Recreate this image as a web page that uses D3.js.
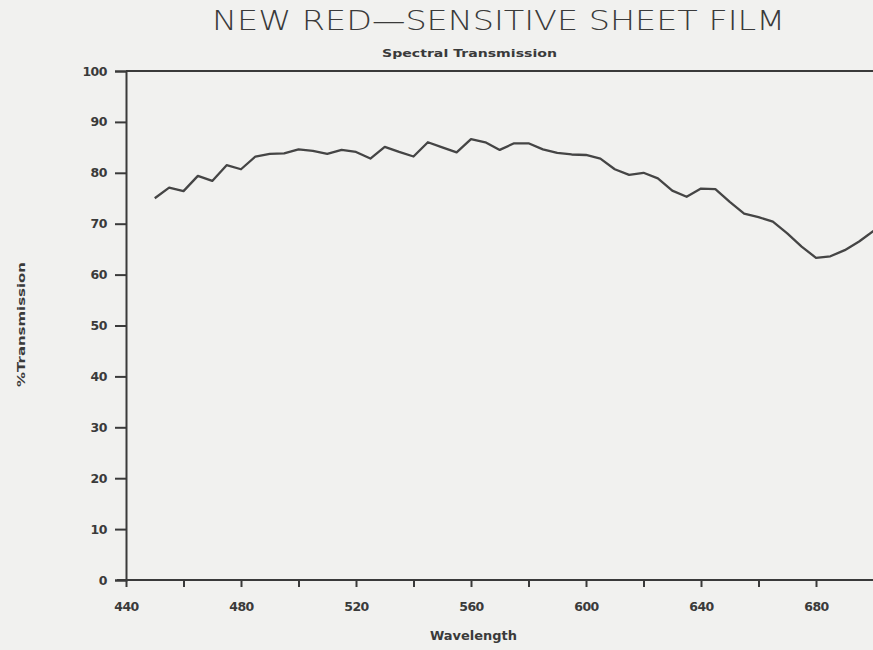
<!DOCTYPE html>
<html><head><meta charset="utf-8">
<script src="https://cdn.jsdelivr.net/npm/d3@7"></script>
<style>
html,body{margin:0;padding:0;background:#f1f1ef;}
svg{display:block;}
</style></head>
<body><svg id="c" width="873" height="650"></svg>
<script>
const wavelengths = [450,455,460,465,470,475,480,485,490,495,500,505,510,515,520,525,530,535,540,545,550,555,560,565,570,575,580,585,590,595,600,605,610,615,620,625,630,635,640,645,650,655,660,665,670,675,680,685,690,695,700];
const transmission = [75.0,77.1,76.4,79.4,78.4,81.5,80.7,83.2,83.7,83.8,84.6,84.3,83.7,84.5,84.1,82.8,85.1,84.1,83.2,86.0,85.0,84.0,86.6,86.0,84.5,85.8,85.8,84.6,83.9,83.6,83.5,82.8,80.7,79.6,80.0,78.9,76.5,75.3,76.9,76.8,74.3,72.0,71.3,70.4,68.1,65.5,63.3,63.6,64.8,66.5,68.6];
const xTicks = [440,460,480,500,520,540,560,580,600,620,640,660,680,700];
const xTickLabels = [440,480,520,560,600,640,680];
const yTicks = [0,10,20,30,40,50,60,70,80,90,100];
const title = "NEW RED\u2014SENSITIVE SHEET FILM";
const subtitle = "Spectral Transmission";
const xTitle = "Wavelength";
const yTitle = "%Transmission";

const svg = d3.select("#c");
const ink = "#3a3a3a";
const x = d3.scaleLinear().domain([440,700]).range([126,873.5]);
const y = d3.scaleLinear().domain([0,100]).range([580,71]);

// frame top
svg.append("line").attr("x1",126).attr("x2",873).attr("y1",y(100)).attr("y2",y(100))
  .attr("stroke",ink).attr("stroke-width",2);

// y axis
const ya = svg.append("g").attr("transform","translate(126,0)")
  .call(d3.axisLeft(y).tickValues(yTicks).tickSize(11).tickPadding(8).tickFormat(d3.format("d")));
ya.select(".domain").attr("stroke",ink).attr("stroke-width",2);
ya.selectAll(".tick line").attr("stroke",ink).attr("stroke-width",2);
ya.selectAll(".tick text").attr("fill",ink).attr("font-family","DejaVu Sans, sans-serif")
  .attr("font-weight","bold").attr("font-size",12.5).attr("letter-spacing",-0.5);

// x axis
const xa = svg.append("g").attr("transform","translate(0,580)")
  .call(d3.axisBottom(x).tickValues(xTicks).tickSize(7).tickPadding(15)
    .tickFormat(d => xTickLabels.includes(d) ? d : ""));
xa.select(".domain").attr("stroke",ink).attr("stroke-width",2).attr("d","M117,0H873");
xa.selectAll(".tick line").attr("stroke",ink).attr("stroke-width",2);
xa.selectAll(".tick text").attr("fill",ink).attr("font-family","DejaVu Sans, sans-serif")
  .attr("font-weight","bold").attr("font-size",12.5).attr("letter-spacing",-0.5);

// curve
const line = d3.line().x((d,i)=>x(wavelengths[i])).y(d=>y(d));
svg.append("path").datum(transmission).attr("d",line).attr("fill","none")
  .attr("stroke","#454545").attr("stroke-width",2.3).attr("stroke-linejoin","round");

// texts
svg.append("text").attr("x",212).attr("y",30).attr("textLength",573).attr("lengthAdjust","spacingAndGlyphs")
  .attr("font-family","DejaVu Sans, sans-serif").attr("font-weight",300).attr("font-size",26)
  .attr("fill","#3a3a3a").text(title);
svg.append("text").attr("x",382).attr("y",57).attr("textLength",175).attr("lengthAdjust","spacingAndGlyphs")
  .attr("font-family","DejaVu Sans, sans-serif").attr("font-weight","bold").attr("font-size",11)
  .attr("fill",ink).text(subtitle);
svg.append("text").attr("x",430).attr("y",640).attr("textLength",87).attr("lengthAdjust","spacingAndGlyphs")
  .attr("font-family","DejaVu Sans, sans-serif").attr("font-weight","bold").attr("font-size",12)
  .attr("fill",ink).text(xTitle);
svg.append("text").attr("transform","translate(25,387) rotate(-90)").attr("textLength",125).attr("lengthAdjust","spacingAndGlyphs")
  .attr("font-family","DejaVu Sans, sans-serif").attr("font-weight","bold").attr("font-size",11)
  .attr("fill",ink).text(yTitle);
</script></body></html>
